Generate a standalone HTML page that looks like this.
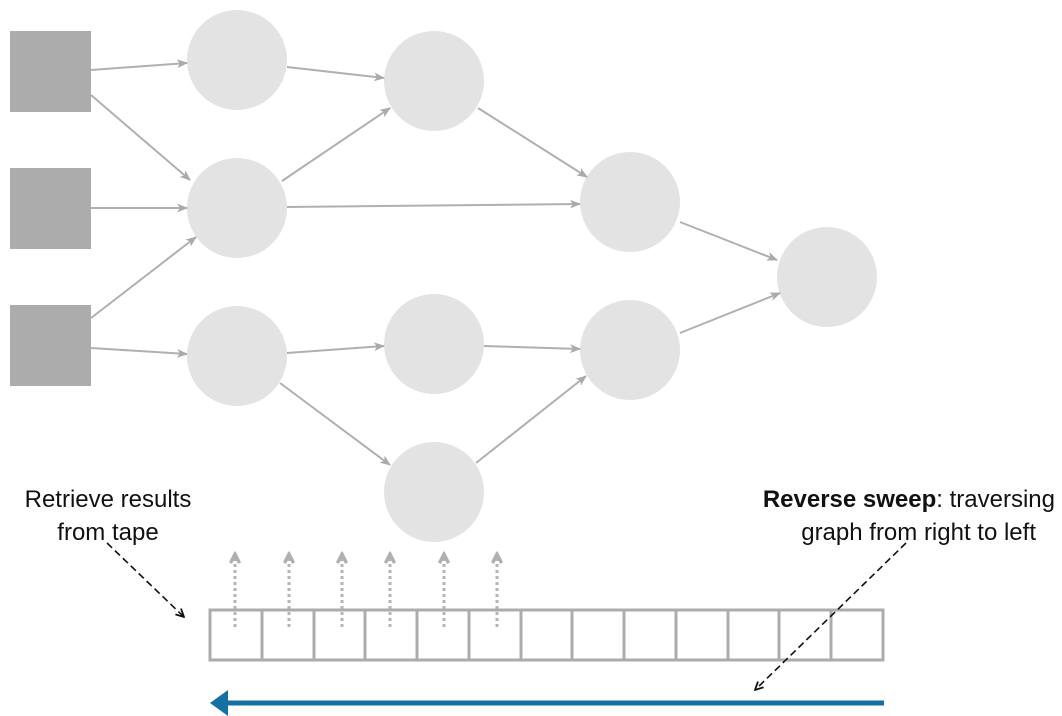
<!DOCTYPE html>
<html><head><meta charset="utf-8"><style>
html,body{margin:0;padding:0;background:#fff;}
svg{display:block;}
text{font-family:"Liberation Sans",sans-serif;font-size:24px;fill:#111;}
</style></head><body>
<svg width="1062" height="716" viewBox="0 0 1062 716" xmlns="http://www.w3.org/2000/svg">
<defs>
<marker id="ga" viewBox="0 0 10 10" refX="9" refY="5" markerWidth="11" markerHeight="11" orient="auto" markerUnits="userSpaceOnUse">
<path d="M0,1 L10,5 L0,9 L2.5,5 z" fill="#aaa"/>
</marker>
<marker id="k" viewBox="0 0 10 10" refX="9" refY="5" markerWidth="10" markerHeight="10" orient="auto" markerUnits="userSpaceOnUse">
<path d="M1,1 L9,5 L1,9" fill="none" stroke="#111" stroke-width="1.8"/>
</marker>
<marker id="d" viewBox="0 0 10 10" refX="8" refY="5" markerWidth="13" markerHeight="13" orient="auto" markerUnits="userSpaceOnUse">
<path d="M1,1.5 L8,5 L1,8.5" fill="none" stroke="#b0b0b0" stroke-width="2.6"/>
</marker>
</defs>
<g fill="#acacac">
<rect x="10" y="31" width="81" height="81"/>
<rect x="10" y="168" width="81" height="81"/>
<rect x="10" y="305" width="81" height="81"/>
</g>
<g fill="#e3e3e3">
<circle cx="237" cy="60" r="50"/>
<circle cx="237" cy="208" r="50"/>
<circle cx="237" cy="356" r="50"/>
<circle cx="434" cy="81" r="50"/>
<circle cx="434" cy="344" r="50"/>
<circle cx="434" cy="492" r="50"/>
<circle cx="630" cy="202" r="50"/>
<circle cx="630" cy="350" r="50"/>
<circle cx="827" cy="277" r="50"/>
</g>
<g stroke="#b0b0b0" stroke-width="2" fill="none" marker-end="url(#ga)">
<line x1="91" y1="70" x2="187" y2="63"/>
<line x1="91" y1="95" x2="190" y2="180"/>
<line x1="91" y1="208" x2="187" y2="208"/>
<line x1="91" y1="318" x2="196" y2="237"/>
<line x1="91" y1="348" x2="187" y2="354"/>
<line x1="287" y1="67" x2="384" y2="78"/>
<line x1="282" y1="181" x2="390" y2="108"/>
<line x1="287" y1="207" x2="580" y2="204"/>
<line x1="478" y1="108" x2="587" y2="177"/>
<line x1="287" y1="353" x2="384" y2="346"/>
<line x1="280" y1="383" x2="390" y2="465"/>
<line x1="484" y1="346" x2="580" y2="349"/>
<line x1="476" y1="463" x2="586" y2="376"/>
<line x1="680" y1="222" x2="777" y2="260"/>
<line x1="680" y1="333" x2="780" y2="293"/>
</g>
<rect x="210" y="610" width="673" height="50" fill="#fff" stroke="#acacac" stroke-width="3"/>
<g stroke="#acacac" stroke-width="3">
<line x1="262" y1="610" x2="262" y2="660"/>
<line x1="314" y1="610" x2="314" y2="660"/>
<line x1="365" y1="610" x2="365" y2="660"/>
<line x1="417" y1="610" x2="417" y2="660"/>
<line x1="469" y1="610" x2="469" y2="660"/>
<line x1="521" y1="610" x2="521" y2="660"/>
<line x1="572" y1="610" x2="572" y2="660"/>
<line x1="624" y1="610" x2="624" y2="660"/>
<line x1="676" y1="610" x2="676" y2="660"/>
<line x1="728" y1="610" x2="728" y2="660"/>
<line x1="779" y1="610" x2="779" y2="660"/>
<line x1="831" y1="610" x2="831" y2="660"/>
</g>
<g stroke="#b4b4b4" stroke-width="3" stroke-dasharray="3,3" fill="none" marker-end="url(#d)">
<line x1="235" y1="627" x2="235" y2="554"/>
<line x1="289" y1="627" x2="289" y2="554"/>
<line x1="342" y1="627" x2="342" y2="554"/>
<line x1="390" y1="627" x2="390" y2="554"/>
<line x1="444" y1="627" x2="444" y2="554"/>
<line x1="497" y1="627" x2="497" y2="554"/>
</g>
<line x1="884" y1="703" x2="226" y2="703" stroke="#1470a4" stroke-width="5"/>
<path d="M210,703 L228,690 L228,716 z" fill="#1470a4"/>
<g stroke="#111" stroke-width="1.6" stroke-dasharray="7,4" fill="none" marker-end="url(#k)">
<line x1="107" y1="543" x2="184" y2="617"/>
<line x1="906" y1="543" x2="755" y2="690"/>
</g>
<text x="108" y="507" text-anchor="middle">Retrieve results</text>
<text x="108" y="540" text-anchor="middle">from tape</text>
<text x="1055" y="507" text-anchor="end"><tspan font-weight="bold">Reverse sweep</tspan>: traversing</text>
<text x="1036" y="540" text-anchor="end">graph from right to left</text>
</svg>
</body></html>
